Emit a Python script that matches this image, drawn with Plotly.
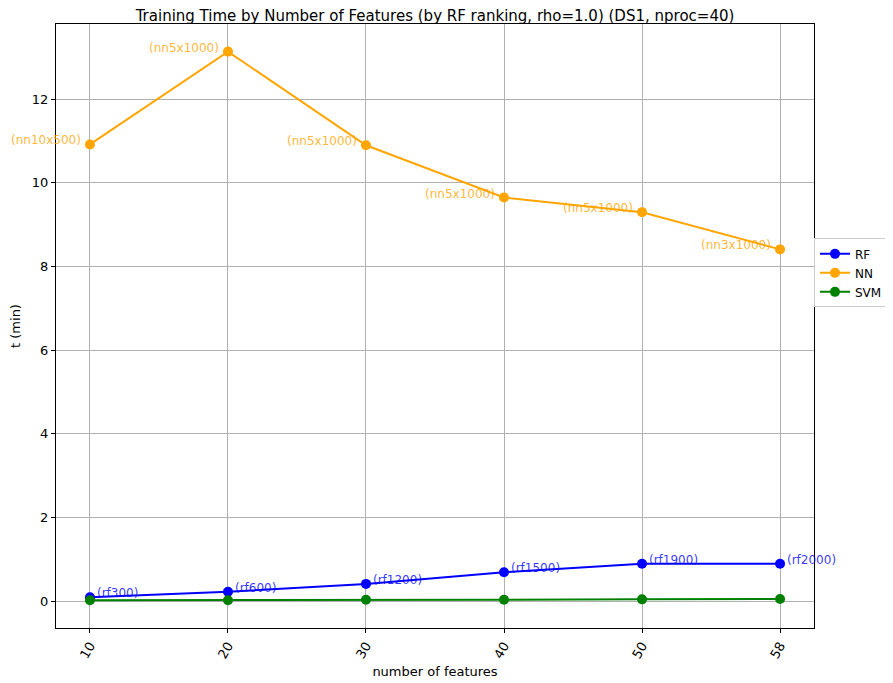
import plotly.graph_objects as go

categories = ["10", "20", "30", "40", "50", "58"]
rf_values = [0.09, 0.22, 0.41, 0.69, 0.89, 0.89]
nn_values = [10.92, 13.14, 10.90, 9.65, 9.30, 8.41]
svm_values = [0.02, 0.02, 0.03, 0.03, 0.04, 0.05]
rf_labels = ["(rf300)", "(rf600)", "(rf1200)", "(rf1500)", "(rf1900)", "(rf2000)"]
nn_labels = ["(nn10x500)", "(nn5x1000)", "(nn5x1000)", "(nn5x1000)", "(nn5x1000)", "(nn3x1000)"]
y_ticks = [0, 2, 4, 6, 8, 10, 12]

FONT = "DejaVu Sans, Verdana, sans-serif"
W, H = 885, 675  # page body has an 8px margin

fig = go.Figure()
for name, vals, color in [("RF", rf_values, "blue"), ("NN", nn_values, "orange"), ("SVM", svm_values, "green")]:
    fig.add_trace(go.Scatter(x=categories, y=vals, mode="lines+markers", name=name,
                             line=dict(color=color, width=2), marker=dict(color=color, size=10)))

annotations = []
for i, (v, t) in enumerate(zip(rf_values, rf_labels)):
    annotations.append(dict(x=i, y=v, text=t, showarrow=False, xanchor="left", yanchor="middle",
                            xshift=5, yshift=4, font=dict(color="rgba(0,0,255,0.8)", size=12, family=FONT)))
for i, (v, t) in enumerate(zip(nn_values, nn_labels)):
    annotations.append(dict(x=i, y=v, text=t, showarrow=False, xanchor="right", yanchor="middle",
                            xshift=-7, yshift=4, font=dict(color="rgba(255,165,0,0.8)", size=12, family=FONT)))

fig.update_layout(
    width=W, height=H,
    margin=dict(l=48, r=79, t=16, b=55, autoexpand=False),
    paper_bgcolor="white", plot_bgcolor="white",
    font=dict(family=FONT, color="black", size=13),
    title=dict(text="Training Time by Number of Features (by RF ranking, rho=1.0) (DS1, nproc=40)",
               x=427 / W, xanchor="center", y=1 - 8 / H, yanchor="middle",
               font=dict(size=15, family=FONT)),
    showlegend=True,
    legend=dict(x=1.0, y=0.588, xanchor="left", yanchor="middle", bordercolor="#cccccc", borderwidth=1,
                bgcolor="white", font=dict(size=12, family=FONT)),
    annotations=annotations,
)
fig.update_xaxes(type="category", range=[-0.246, 5.246], tickangle=-60, showgrid=True, gridcolor="#b0b0b0",
                 showline=True, linecolor="black", linewidth=1, mirror=True, ticks="outside", ticklen=4,
                 tickcolor="black", zeroline=False, automargin=False,
                 title=dict(text="number of features", font=dict(size=13), standoff=6), tickfont=dict(size=13))
fig.update_yaxes(range=[-0.645, 13.8], tickvals=y_ticks, showgrid=True, gridcolor="#b0b0b0",
                 showline=True, linecolor="black", linewidth=1, mirror=True, ticks="outside", ticklen=4,
                 tickcolor="black", zeroline=False, automargin=False,
                 title=dict(text="t (min)", font=dict(size=13), standoff=14), tickfont=dict(size=13))

fig.write_html("out.html")
